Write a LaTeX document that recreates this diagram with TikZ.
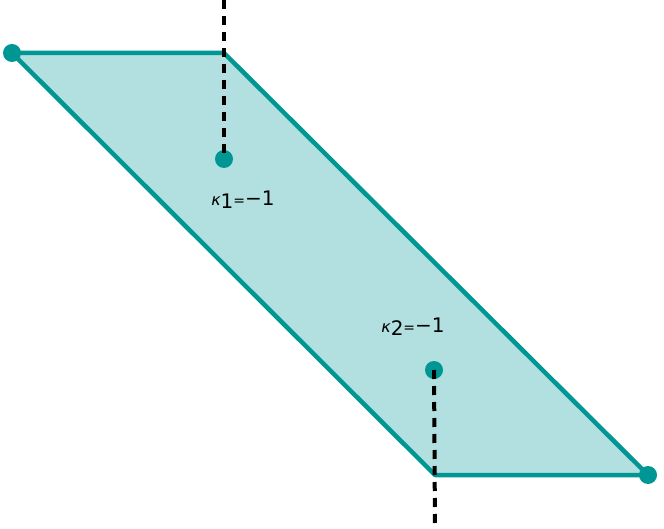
\documentclass[tikz,border=0pt]{standalone}
\usepackage{fontspec}
\setmainfont{DejaVu Sans}
\begin{document}
\begin{tikzpicture}[x=1pt,y=-1pt,
  edge/.style={draw=tealc,line width=4.5pt,line join=round},
  dot/.style={circle,fill=tealc,inner sep=0pt,minimum size=18pt},
  guide/.style={black,line width=4pt,dash pattern=on 9pt off 7pt},
  lab/.style={font=\fontsize{20}{22}\selectfont}]
\definecolor{tealc}{HTML}{009693}
\definecolor{fillc}{HTML}{B2DFDF}
\useasboundingbox (0,0) rectangle (664,529);
\coordinate (a) at (12,53);
\coordinate (b) at (224,53);
\coordinate (c) at (648,475);
\coordinate (d) at (435,475);
\coordinate (t1) at (224,0);
\coordinate (t2) at (435,529);
\fill[fillc] (a)--(b)--(c)--(d)--cycle;
\draw[edge] (a)--(b)--(c)--(d)--cycle;
\node[dot] (p1) at (224,159) {};
\node[dot] (p2) at (434,370) {};
\draw[guide] (t1) -- (p1.center);
\draw[guide] (p2.center) -- (t2);
\node[dot] (pa) at (a) {};
\node[dot] (pc) at (c) {};
\node[lab] (l1) at (243,200) {{\itshape\fontsize{16}{16}\selectfont κ}\raisebox{-3pt}{1}{\fontsize{14}{14}\selectfont =}−1};
\node[lab] (l2) at (413,327) {{\itshape\fontsize{16}{16}\selectfont κ}\raisebox{-3pt}{2}{\fontsize{14}{14}\selectfont =}−1};
\end{tikzpicture}
\end{document}
